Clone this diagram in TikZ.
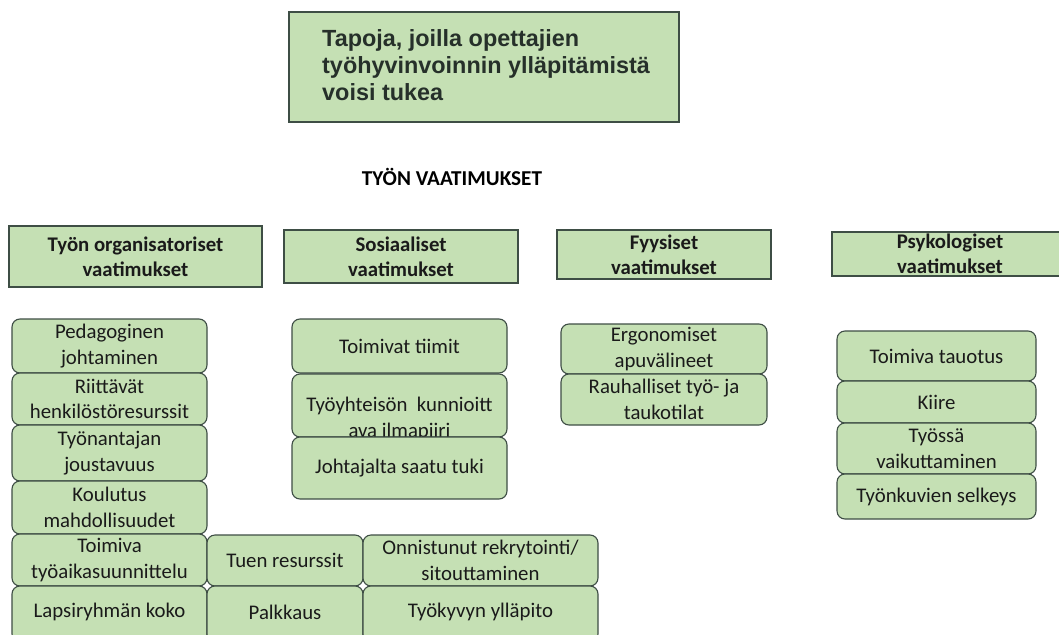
\documentclass[tikz,border=0pt]{standalone}
\usepackage{fontspec}
\setmainfont{Carlito}
\newfontfamily\ttlfont{Liberation Sans}
\definecolor{boxfill}{HTML}{C5E0B4}
\definecolor{boxline}{HTML}{3E4E45}
\definecolor{ttltext}{HTML}{26302A}
\definecolor{bodytext}{HTML}{1A1A1A}
\tikzset{
  rbox/.style={draw=boxline, fill=boxfill, line width=1.1pt, rounded corners=8pt, inner sep=0pt},
  cbox/.style={draw=boxline, fill=boxfill, line width=1.1pt, inner sep=0pt},
  txt/.style={inner sep=0pt, align=center, text=bodytext, font=\fontsize{20.8}{25.5}\selectfont},
  ctxt/.style={inner sep=0pt, align=center, text=bodytext, font=\bfseries\fontsize{20.8}{25}\selectfont},
}
\newcommand\mkbox[7][rbox]{%
  \node[#1, minimum width=#5pt, minimum height=#6pt] (#2) at (#3,#4) {};%
}
\begin{document}
\begin{tikzpicture}[x=1pt,y=-1pt]
\useasboundingbox (0,0) rectangle (1059,634);
\clip (0,0) rectangle (1059,634);
\fill[white] (0,0) rectangle (1059,634);

% title
\mkbox[cbox]{title}{484}{67}{390}{110}{}
\node[inner sep=0pt, anchor=west, align=left, text=ttltext,
      font=\ttlfont\bfseries\fontsize{23.4}{27}\selectfont] (titlet) at (322,65)
  {Tapoja, joilla opettajien\\työhyvinvoinnin ylläpitämistä\\voisi tukea};

\node[inner sep=0pt, text=black, font=\bfseries\fontsize{21.2}{24}\selectfont] (head) at (452,177) {TYÖN VAATIMUKSET};

% category boxes
\mkbox[cbox]{c1}{135.5}{256.5}{253}{61}{}
\node[ctxt] (c1t) at (c1.center) {Työn organisatoriset\\vaatimukset};
\mkbox[cbox]{c2}{401}{256.5}{234}{53}{}
\node[ctxt] (c2t) at (c2.center) {Sosiaaliset\\vaatimukset};
\mkbox[cbox]{c3}{664}{254.5}{214}{49}{}
\node[ctxt] (c3t) at (c3.center) {Fyysiset\\vaatimukset};
\mkbox[cbox]{c4}{950}{254}{236}{44}{}
\node[ctxt] (c4t) at (c4.center) {Psykologiset\\vaatimukset};

% column 1
\mkbox{a1}{109.5}{346}{195}{54}{}
\node[txt] (a1t) at (a1.center) {Pedagoginen\\johtaminen};
\mkbox{a2}{109.5}{399}{195}{52}{}
\node[txt] (a2t) at (a2.center) {Riittävät\\henkilöstöresurssit};
\mkbox{a3}{109.5}{453}{195}{56}{}
\node[txt] (a3t) at (a3.center) {Työnantajan\\joustavuus};
\mkbox{a4}{109.5}{507.5}{195}{53}{}
\node[txt] (a4t) at (a4.center) {Koulutus\\mahdollisuudet};
\mkbox{a5}{109.5}{560}{195}{52}{}
\node[txt] (a5t) at (a5.center) {Toimiva\\työaikasuunnittelu};
\mkbox{a6}{109.5}{614}{195}{56}{}
\node[txt] (a6t) at (109.5,612) {Lapsiryhmän koko};

% bottom middle
\mkbox{b1}{285}{560.5}{156}{51}{}
\node[txt] (b1t) at (b1.center) {Tuen resurssit};
\mkbox{b2}{285}{614}{156}{56}{}
\node[txt] (b2t) at (285,612) {Palkkaus};
\mkbox{b3}{480.5}{560.5}{235}{51}{}
\node[txt] (b3t) at (b3.center) {Onnistunut rekrytointi/\\sitouttaminen};
\mkbox{b4}{480.5}{614}{235}{56}{}
\node[txt] (b4t) at (480.5,612) {Työkyvyn ylläpito};

% column 2
\mkbox{s1}{399.5}{346}{215}{54}{}
\node[txt] (s1t) at (s1.center) {Toimivat tiimit};
\mkbox{s2}{399.5}{405.5}{215}{63}{}
\node[txt] (s2t) at (399.5,419) {Työyhteisön\ \ kunnioitt\\ava ilmapiiri};
\mkbox{s3}{399.5}{468}{215}{62}{}
\node[txt] (s3t) at (s3.center) {Johtajalta saatu tuki};

% column 3
\mkbox{f1}{664}{349}{206}{50}{}
\node[txt] (f1t) at (f1.center) {Ergonomiset\\apuvälineet};
\mkbox{f2}{664}{399.5}{206}{51}{}
\node[txt] (f2t) at (f2.center) {Rauhalliset työ- ja\\taukotilat};

% column 4
\mkbox{p1}{936.5}{356}{199}{50}{}
\node[txt] (p1t) at (p1.center) {Toimiva tauotus};
\mkbox{p2}{936.5}{402}{199}{42}{}
\node[txt] (p2t) at (p2.center) {Kiire};
\mkbox{p3}{936.5}{448.5}{199}{51}{}
\node[txt] (p3t) at (p3.center) {Työssä\\vaikuttaminen};
\mkbox{p4}{936.5}{496.5}{199}{45}{}
\node[txt] (p4t) at (p4.center) {Työnkuvien selkeys};
\end{tikzpicture}
\end{document}
